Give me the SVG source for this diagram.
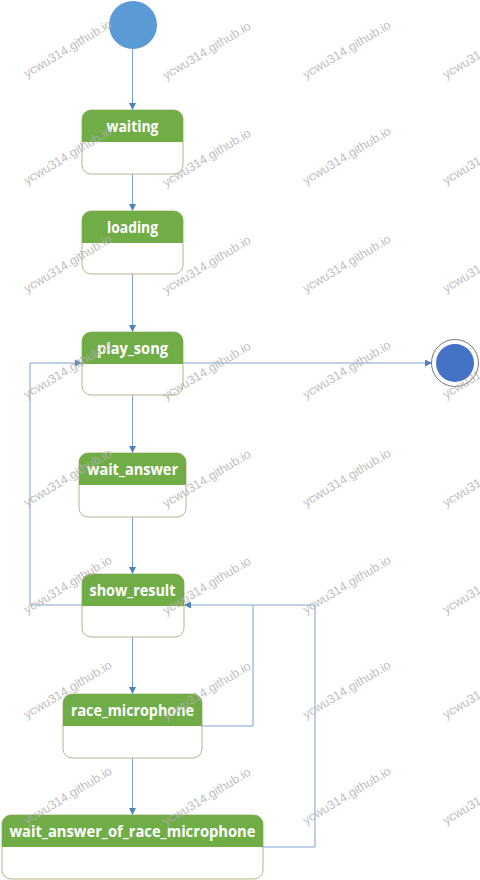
<svg xmlns="http://www.w3.org/2000/svg" width="480" height="880" viewBox="0 0 480 880">
<style>
.body{fill:#ffffff;stroke:#b8b48c;stroke-width:1}
.head{fill:#70ad47}
.lbl{font-family:"Open Sans","Liberation Sans",sans-serif;font-weight:bold;font-size:15.5px;fill:#ffffff;text-anchor:middle}
.edge{fill:none;stroke:#7ba3d1;stroke-width:1}
.wm{font-family:"Liberation Sans",Arial,sans-serif;font-size:12.5px;fill:#b0b0b0;opacity:0.8}
</style>
<defs>
<marker id="arr" viewBox="0 0 10 10" refX="10" refY="5" markerWidth="7" markerHeight="7" orient="auto" markerUnits="userSpaceOnUse">
<path d="M0,0 L10,5 L0,10 Z" fill="#4f81bd"/>
</marker>
</defs>
<rect width="480" height="880" fill="#ffffff"/>

<g id="connectors">
<line class="edge" x1="132.5" y1="49" x2="132.5" y2="110" marker-end="url(#arr)"/>
<line class="edge" x1="132.5" y1="174" x2="132.5" y2="211" marker-end="url(#arr)"/>
<line class="edge" x1="132.5" y1="274" x2="132.5" y2="332" marker-end="url(#arr)"/>
<line class="edge" x1="183" y1="363" x2="432" y2="363" marker-end="url(#arr)"/>
<line class="edge" x1="132.5" y1="395" x2="132.5" y2="453" marker-end="url(#arr)"/>
<line class="edge" x1="132.5" y1="517" x2="132.5" y2="574" marker-end="url(#arr)"/>
<polyline class="edge" points="82,605 30,605 30,363 82,363" marker-end="url(#arr)"/>
<line class="edge" x1="132.5" y1="637" x2="132.5" y2="694" marker-end="url(#arr)"/>
<polyline class="edge" points="202,726 253,726 253,605"/>
<polyline class="edge" points="263,847 315,847 315,605 184,605" marker-end="url(#arr)"/>
<line class="edge" x1="132.5" y1="758" x2="132.5" y2="815" marker-end="url(#arr)"/>
</g>

<g id="start">
<circle cx="133" cy="25" r="24" fill="#5b9bd5"/>
</g>

<g id="waiting">
<rect class="body" x="82" y="110" width="101" height="64" rx="9"/>
<path class="head" d="M82,142 V119 A9,9 0 0 1 91,110 H174 A9,9 0 0 1 183,119 V142 Z"/>
<text class="lbl" x="132.5" y="131.5" textLength="52" lengthAdjust="spacingAndGlyphs">waiting</text>
</g>

<g id="loading">
<rect class="body" x="82" y="211" width="101" height="63" rx="9"/>
<path class="head" d="M82,243 V220 A9,9 0 0 1 91,211 H174 A9,9 0 0 1 183,220 V243 Z"/>
<text class="lbl" x="132.5" y="232.5" textLength="51" lengthAdjust="spacingAndGlyphs">loading</text>
</g>

<g id="play_song">
<rect class="body" x="82" y="332" width="101" height="63" rx="9"/>
<path class="head" d="M82,364 V341 A9,9 0 0 1 91,332 H174 A9,9 0 0 1 183,341 V364 Z"/>
<text class="lbl" x="132.5" y="353.5" textLength="71" lengthAdjust="spacingAndGlyphs">play_song</text>
</g>

<g id="final">
<circle cx="455" cy="363" r="23.5" fill="#ffffff" stroke="#555555" stroke-width="0.8"/>
<circle cx="455" cy="363" r="19" fill="#4472c4"/>
</g>

<g id="wait_answer">
<rect class="body" x="79" y="453" width="107" height="64" rx="9"/>
<path class="head" d="M79,485 V462 A9,9 0 0 1 88,453 H177 A9,9 0 0 1 186,462 V485 Z"/>
<text class="lbl" x="132.5" y="474.5" textLength="91" lengthAdjust="spacingAndGlyphs">wait_answer</text>
</g>

<g id="show_result">
<rect class="body" x="82" y="574" width="102" height="63" rx="9"/>
<path class="head" d="M82,606 V583 A9,9 0 0 1 91,574 H175 A9,9 0 0 1 184,583 V606 Z"/>
<text class="lbl" x="132.5" y="595.5" textLength="86" lengthAdjust="spacingAndGlyphs">show_result</text>
</g>

<g id="race_microphone">
<rect class="body" x="63" y="694" width="139" height="64" rx="9"/>
<path class="head" d="M63,726 V703 A9,9 0 0 1 72,694 H193 A9,9 0 0 1 202,703 V726 Z"/>
<text class="lbl" x="132.5" y="715.5" textLength="123" lengthAdjust="spacingAndGlyphs">race_microphone</text>
</g>

<g id="wait_answer_of_race_microphone">
<rect class="body" x="2" y="815" width="261" height="64" rx="9"/>
<path class="head" d="M2,847 V824 A9,9 0 0 1 11,815 H254 A9,9 0 0 1 263,824 V847 Z"/>
<text class="lbl" x="132.5" y="836.5" textLength="246" lengthAdjust="spacingAndGlyphs">wait_answer_of_race_microphone</text>
</g>

<g id="watermarks">
<text class="wm" transform="translate(27,78) rotate(-31)">ycwu314.github.io</text>
<text class="wm" transform="translate(166,80) rotate(-31)">ycwu314.github.io</text>
<text class="wm" transform="translate(306,79) rotate(-31)">ycwu314.github.io</text>
<text class="wm" transform="translate(446,79) rotate(-31)">ycwu314.github.io</text>
<text class="wm" transform="translate(27,185) rotate(-31)">ycwu314.github.io</text>
<text class="wm" transform="translate(166,187) rotate(-31)">ycwu314.github.io</text>
<text class="wm" transform="translate(306,185) rotate(-31)">ycwu314.github.io</text>
<text class="wm" transform="translate(446,185) rotate(-31)">ycwu314.github.io</text>
<text class="wm" transform="translate(27,293) rotate(-31)">ycwu314.github.io</text>
<text class="wm" transform="translate(166,294) rotate(-31)">ycwu314.github.io</text>
<text class="wm" transform="translate(306,293) rotate(-31)">ycwu314.github.io</text>
<text class="wm" transform="translate(446,293) rotate(-31)">ycwu314.github.io</text>
<text class="wm" transform="translate(27,399) rotate(-31)">ycwu314.github.io</text>
<text class="wm" transform="translate(166,400) rotate(-31)">ycwu314.github.io</text>
<text class="wm" transform="translate(306,399) rotate(-31)">ycwu314.github.io</text>
<text class="wm" transform="translate(446,399) rotate(-31)">ycwu314.github.io</text>
<text class="wm" transform="translate(27,507) rotate(-31)">ycwu314.github.io</text>
<text class="wm" transform="translate(166,508) rotate(-31)">ycwu314.github.io</text>
<text class="wm" transform="translate(306,507) rotate(-31)">ycwu314.github.io</text>
<text class="wm" transform="translate(446,507) rotate(-31)">ycwu314.github.io</text>
<text class="wm" transform="translate(27,614) rotate(-31)">ycwu314.github.io</text>
<text class="wm" transform="translate(166,615) rotate(-31)">ycwu314.github.io</text>
<text class="wm" transform="translate(306,614) rotate(-31)">ycwu314.github.io</text>
<text class="wm" transform="translate(446,614) rotate(-31)">ycwu314.github.io</text>
<text class="wm" transform="translate(27,719) rotate(-31)">ycwu314.github.io</text>
<text class="wm" transform="translate(166,720) rotate(-31)">ycwu314.github.io</text>
<text class="wm" transform="translate(306,719) rotate(-31)">ycwu314.github.io</text>
<text class="wm" transform="translate(446,719) rotate(-31)">ycwu314.github.io</text>
<text class="wm" transform="translate(27,825) rotate(-31)">ycwu314.github.io</text>
<text class="wm" transform="translate(166,826) rotate(-31)">ycwu314.github.io</text>
<text class="wm" transform="translate(306,825) rotate(-31)">ycwu314.github.io</text>
<text class="wm" transform="translate(446,825) rotate(-31)">ycwu314.github.io</text>
</g>
</svg>
